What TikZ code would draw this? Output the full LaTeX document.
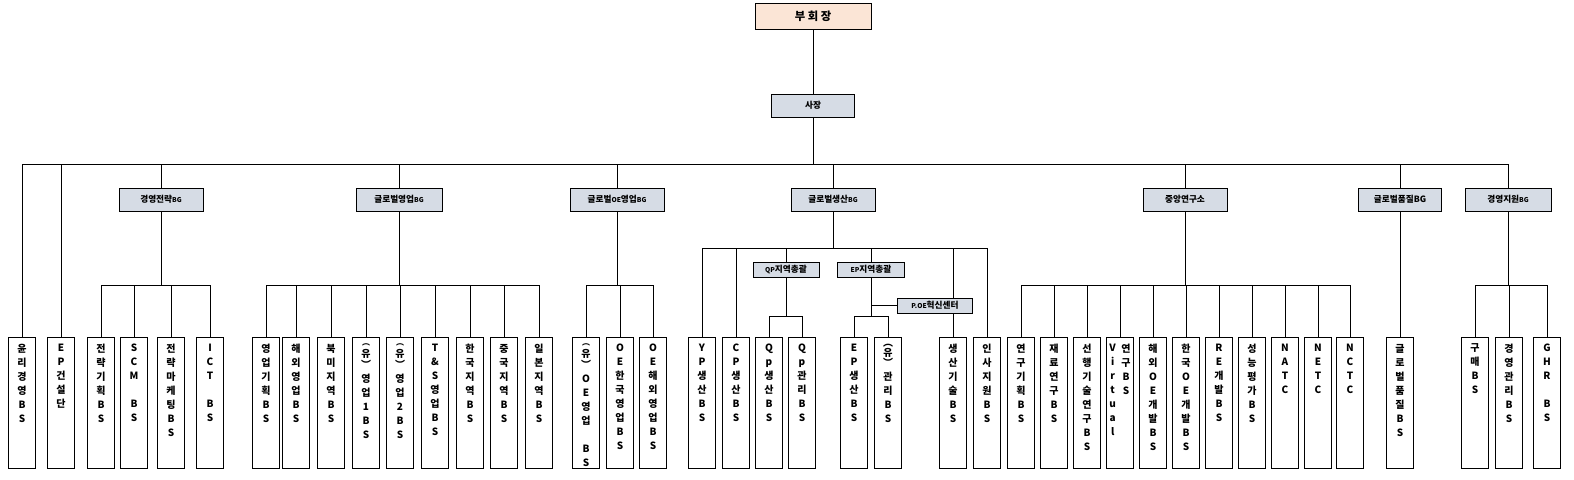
\documentclass[tikz,border=0pt]{standalone}
\usepackage{fontspec}
\setmainfont{Noto Sans CJK KR}
\usetikzlibrary{positioning,backgrounds}
\definecolor{peach}{HTML}{FBE5D6}
\definecolor{slate}{HTML}{D6DCE5}
\newcommand{\sm}[1]{{\fontsize{5}{6}\selectfont #1}}
\newcommand{\smtxt}{\fontsize{6}{8.3}\selectfont}
\tikzset{every node/.style={font=\bfseries\fontsize{6.5}{8}\selectfont},
  head/.style={draw, fill=peach, minimum width=87pt, minimum height=19.5pt, inner sep=0pt,
    font=\bfseries\fontsize{8.5}{10}\selectfont},
  unit/.style={draw, fill=slate, minimum height=17.25pt, inner sep=0pt},
  subunit/.style={draw, fill=slate, minimum height=11.25pt, inner sep=0pt},
  leaf/.style={draw, fill=white, minimum width=20.25pt, minimum height=98.25pt, anchor=north, inner sep=0pt},
  leaftext/.style={anchor=north, align=center, inner sep=0pt, font=\bfseries\fontsize{7.5}{10.5}\selectfont},
  conn/.style={line width=0.6pt}}

\begin{document}
\begin{tikzpicture}[x=0.75pt, y=-0.75pt]
    \useasboundingbox (0,0) rectangle (1574,479);
    % top
    \node[head] (vp) at (813,16) {부 회 장};
    \node[unit, minimum width=62.25pt] (ceo) at (813,105.5) {사장};
    % business groups
    \node[unit, minimum width=63pt] (bg1) at (161,199.5) {경영전략\sm{BG}};
    \node[unit, minimum width=64.5pt] (bg2) at (399,199.5) {글로벌영업\sm{BG}};
    \node[unit, minimum width=70.5pt] (bg3) at (617,199.5) {글로벌\sm{OE}영업\sm{BG}};
    \node[unit, minimum width=63pt] (bg4) at (833,199.5) {글로벌생산\sm{BG}};
    \node[unit, minimum width=63pt] (bg5) at (1185,199.5) {중앙연구소};
    \node[unit, minimum width=62.25pt] (bg6) at (1400,199.5) {글로벌품질BG};
    \node[unit, minimum width=64.5pt] (bg7) at (1508,199.5) {경영지원\sm{BG}};
    % production sub units
    \node[subunit, minimum width=49.5pt] (qpreg) at (786,269.5) {\sm{QP}지역총괄};
    \node[subunit, minimum width=50.25pt] (epreg) at (871,269.5) {\sm{EP}지역총괄};
    \node[subunit, minimum width=56.25pt] (poe) at (935,305.5) {\sm{P.OE}혁신센터};
    % business units
    \foreach \n/\x/\t in {ethics/22/{윤\\리\\경\\영\\B\\S}, epcon/61/{E\\P\\건\\설\\단},
        stplan/101/{전\\략\\기\\획\\B\\S}, scm/134/{S\\C\\M\\~\\B\\S},
        stmkt/171/{전\\략\\마\\케\\팅\\B\\S}, ict/210/{I\\C\\T\\~\\B\\S},
        salesplan/266/{영\\업\\기\\획\\B\\S}, overseas/296/{해\\외\\영\\업\\B\\S},
        namerica/331/{북\\미\\지\\역\\B\\S},
        salesa/366/{\smtxt ︵\\[-2pt]유\\[-2pt]︶\\영\\업\\1\\B\\S},
        salesb/400/{\smtxt ︵\\[-2pt]유\\[-2pt]︶\\영\\업\\2\\B\\S}, tands/435/{T\\\&\\S\\영\\업\\B\\S},
        korea/470/{한\\국\\지\\역\\B\\S}, china/504/{중\\국\\지\\역\\B\\S},
        japan/539/{일\\본\\지\\역\\B\\S},
        oesales/586/{\smtxt ︵\\[-2pt]유\\[-2pt]︶\\O\\E\\영\\업\\~\\B\\S},
        oekorea/620/{O\\E\\한\\국\\영\\업\\B\\S}, oeover/653/{O\\E\\해\\외\\영\\업\\B\\S},
        yp/702/{Y\\P\\생\\산\\B\\S}, cp/736/{C\\P\\생\\산\\B\\S},
        qpprod/769/{Q\\p\\생\\산\\B\\S}, qpmgmt/802/{Q\\p\\관\\리\\B\\S},
        epprod/854/{E\\P\\생\\산\\B\\S}, epmgmt/888/{︵\\[-3pt]유\\[-3pt]︶\\관\\리\\B\\S},
        prodtech/953/{생\\산\\기\\술\\B\\S}, hrsup/987/{인\\사\\지\\원\\B\\S},
        rdplan/1021/{연\\구\\기\\획\\B\\S}, material/1054/{재\\료\\연\\구\\B\\S},
        advtech/1087/{선\\행\\기\\술\\연\\구\\B\\S}, virtual/1120/{},
        ovoe/1153/{해\\외\\O\\E\\개\\발\\B\\S}, kroe/1186/{한\\국\\O\\E\\개\\발\\B\\S},
        redev/1219/{R\\E\\개\\발\\B\\S}, perf/1252/{성\\능\\평\\가\\B\\S},
        natc/1285/{N\\A\\T\\C}, netc/1318/{N\\E\\T\\C}, nctc/1350/{N\\C\\T\\C},
        quality/1400/{글\\로\\벌\\품\\질\\B\\S}, purchase/1475/{구\\매\\B\\S},
        mgmtplan/1509/{경\\영\\관\\리\\B\\S}, ghr/1547/{G\\H\\R\\~\\B\\S}}
    {
      \node[leaf] (\n) at (\x,337) {};
      \node[leaftext, below=5pt of \n.north] (\n-t) {\t};
    }
    \node[leaftext, below=5pt of virtual.north, xshift=-5.5pt] (virtual-l) {V\\i\\r\\t\\u\\a\\l};
    \node[leaftext, below=5pt of virtual.north, xshift=4.5pt] (virtual-r) {연\\구\\B\\S};
    % connectors
    \begin{scope}[on background layer]
      \coordinate (bus) at (0,164);
      \coordinate (low) at (0,285);
      \coordinate (pbus) at (0,248);
      \coordinate (rbus) at (0,316);
      \draw[conn] (vp) -- (ceo);
      \foreach \c in {ethics,epcon,bg1,bg2,bg3,bg4,bg5,bg6,bg7}
        \draw[conn] (ceo.south) -- (ceo.south |- bus) -| (\c.north);
      \foreach \p/\cs in {bg1/{stplan,scm,stmkt,ict},
          bg2/{salesplan,overseas,namerica,salesa,salesb,tands,korea,china,japan},
          bg3/{oesales,oekorea,oeover},
          bg5/{rdplan,material,advtech,virtual,ovoe,kroe,redev,perf,natc,netc,nctc},
          bg7/{purchase,mgmtplan,ghr}}
        \foreach \c in \cs
          \draw[conn] (\p.south) -- (\p.south |- low) -| (\c.north);
      \draw[conn] (bg6.south) -- (quality.north);
      % production
      \foreach \c in {yp,cp,qpreg,epreg,prodtech,hrsup}
        \draw[conn] (bg4.south) -- (bg4.south |- pbus) -| (\c.north);
      \foreach \c in {qpprod,qpmgmt}
        \draw[conn] (qpreg.south) -- (qpreg.south |- rbus) -| (\c.north);
      \foreach \c in {epprod,epmgmt}
        \draw[conn] (epreg.south) -- (epreg.south |- rbus) -| (\c.north);
      \draw[conn] (epreg.south |- poe.west) -- (poe.west);
    \end{scope}
\end{tikzpicture}
\end{document}
